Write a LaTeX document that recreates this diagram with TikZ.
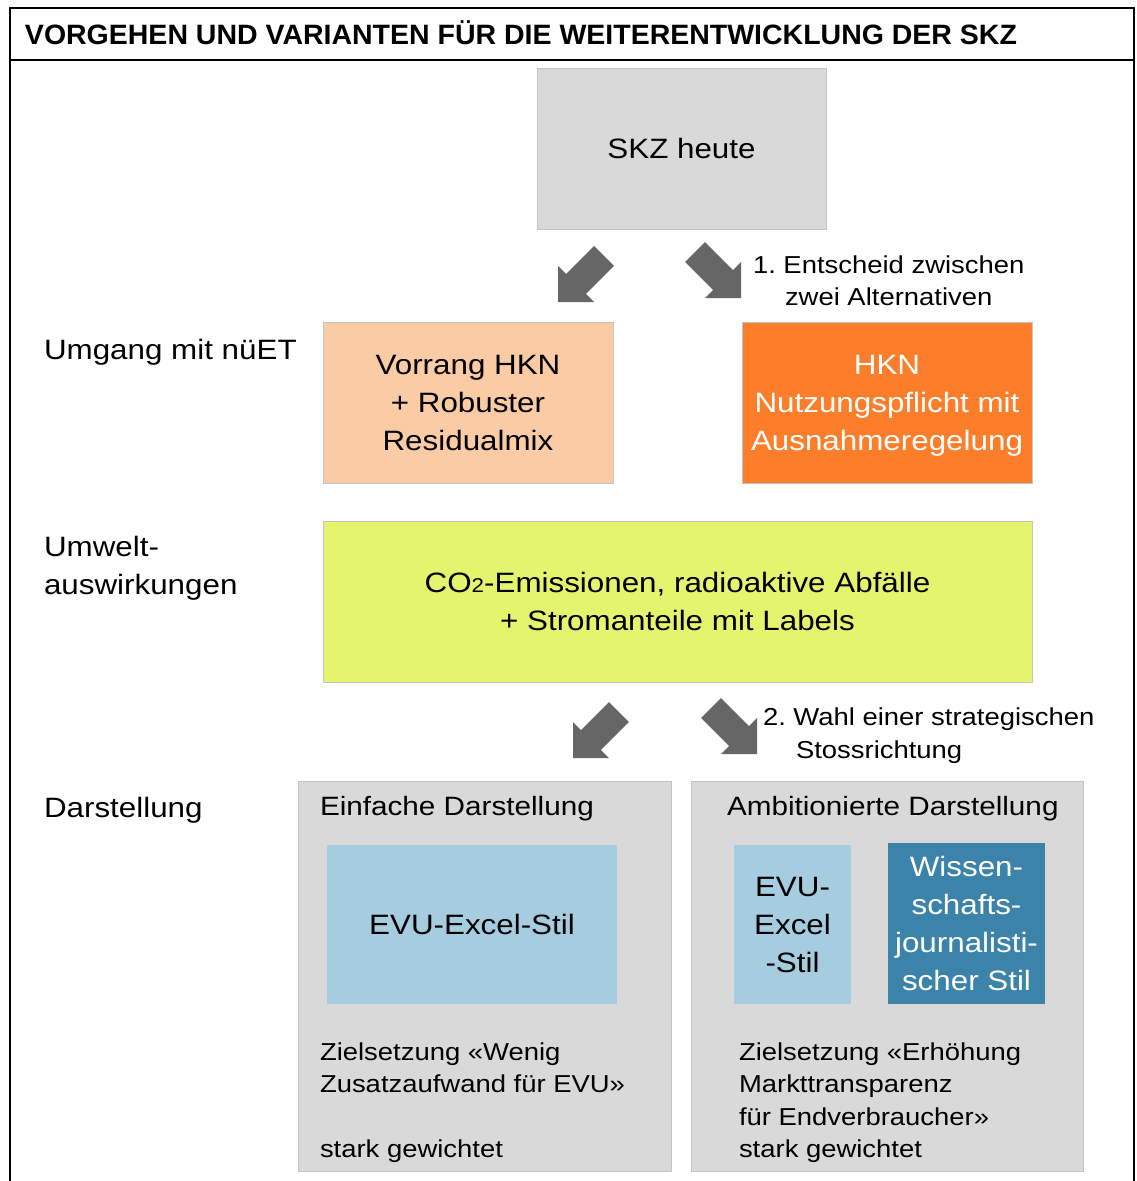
\documentclass[tikz,border=0pt]{standalone}
\usepackage{fontspec}
\setmainfont{Liberation Sans}[FakeStretch=1.12]
\usepackage{graphicx}
\definecolor{boxgray}{HTML}{D9D9D9}
\definecolor{edgegray}{HTML}{C4C4C4}
\definecolor{peach}{HTML}{FBCBA6}
\definecolor{orangeA}{HTML}{FD7E2A}
\definecolor{lime}{HTML}{E5F46D}
\definecolor{lightblue}{HTML}{A5CCDF}
\definecolor{steelblue}{HTML}{3B83A8}
\definecolor{arrowgray}{HTML}{666666}
\newcommand{\nodepth}[1]{\raisebox{0pt}[\height][0pt]{#1}}
\frenchspacing
\begin{document}
\begin{tikzpicture}[x=1pt,y=-1pt]
\tikzset{
  box/.style={draw=edgegray, line width=1pt, anchor=north west, inner sep=0pt, outer sep=0pt, align=center},
  big/.style={font=\fontsize{28}{38}\selectfont},
  mid/.style={font=\fontsize{26.5}{32}\selectfont},
  small/.style={font=\fontsize{24.5}{32.5}\selectfont},
  lbl/.style={anchor=base west, inner sep=0pt, outer sep=0pt},
  blockarrow/.pic={\fill[arrowgray] (0,0) -- (-36,0) -- (-27.9,-8.1) -- (-55.9,-36.1) -- (-36.1,-55.9) -- (-8.1,-27.9) -- (0,-36) -- cycle;}
}
\useasboundingbox (0,0) rectangle (1137,1181);
\fill[white] (0,0) rectangle (1137,1181);
% frame
\draw[line width=2pt] (10,1182) -- (10,8) -- (1134,8) -- (1134,1182);
\draw[line width=2pt] (10,60) -- (1134,60);
\node[lbl] (title) at (25,44) {\resizebox{992pt}{\height}{\bfseries\fontsize{28}{32}\selectfont VORGEHEN UND VARIANTEN FÜR DIE WEITERENTWICKLUNG DER SKZ}};
% top box
\node[box, fill=boxgray, minimum width=289, minimum height=161, big] (skz) at (537,68) {SKZ heute};
% arrows 1
\path (558,302) pic[xscale=-1] {blockarrow};
\path (741,298) pic {blockarrow};
\node[lbl, small] (l1a) at (753,273) {1. Entscheid zwischen};
\node[lbl, small] (l1b) at (785,305) {zwei Alternativen};
% row 1
\node[lbl, big] (umgang) at (44,359) {Umgang mit nüET};
\node[box, fill=peach, minimum width=290, minimum height=161, big] (vorrang) at (323,322) {Vorrang HKN\\+ Robuster\\Residualmix};
\node[box, fill=orangeA, text=white, minimum width=290, minimum height=161, big] (hkn) at (742,322) {HKN\\Nutzungspflicht mit\\\nodepth{Ausnahmeregelung}};
% row 2
\node[lbl, big] (umw1) at (44,556) {Umwelt-};
\node[lbl, big] (umw2) at (44,594) {auswirkungen};
\node[box, fill=lime, minimum width=709, minimum height=161, big] (co2) at (323,521) {CO{\fontsize{20}{20}\selectfont 2}-Emissionen, radioaktive Abfälle\\+ Stromanteile mit Labels};
% arrows 2
\path (573,758) pic[xscale=-1] {blockarrow};
\path (757,754) pic {blockarrow};
\node[lbl, small] (l2a) at (763,725) {2. Wahl einer strategischen};
\node[lbl, small] (l2b) at (796,758) {Stossrichtung};
% row 3
\node[lbl, big] (darst) at (44,817) {Darstellung};
\node[box, fill=boxgray, minimum width=373, minimum height=390] (left) at (298,781) {};
\node[box, fill=boxgray, minimum width=392, minimum height=390] (right) at (691,781) {};
\node[lbl, mid] (lt) at (320,815) {Einfache Darstellung};
\node[lbl, mid] (rt) at (727,815) {Ambitionierte Darstellung};
\node[box, draw=none, fill=lightblue, minimum width=290, minimum height=159, big] (evu) at (327,845) {EVU-Excel-Stil};
\node[box, draw=none, fill=lightblue, minimum width=117, minimum height=159, big] (evu2) at (734,845) {EVU-\\Excel\\-Stil};
\node[box, draw=none, fill=steelblue, text=white, minimum width=157, minimum height=161, big] (wiss) at (888,843) {Wissen-\\schafts-\\journalisti-\\scher Stil};
\node[lbl, small] (z1) at (320,1060) {Zielsetzung «Wenig};
\node[lbl, small] (z2) at (320,1092.5) {Zusatzaufwand für EVU»};
\node[lbl, small] (z3) at (320,1157.5) {stark gewichtet};
\node[lbl, small] (r1) at (739,1060) {Zielsetzung «Erhöhung};
\node[lbl, small] (r2) at (739,1092.5) {Markttransparenz};
\node[lbl, small] (r3) at (739,1125) {für Endverbraucher»};
\node[lbl, small] (r4) at (739,1157.5) {stark gewichtet};
\end{tikzpicture}
\end{document}
